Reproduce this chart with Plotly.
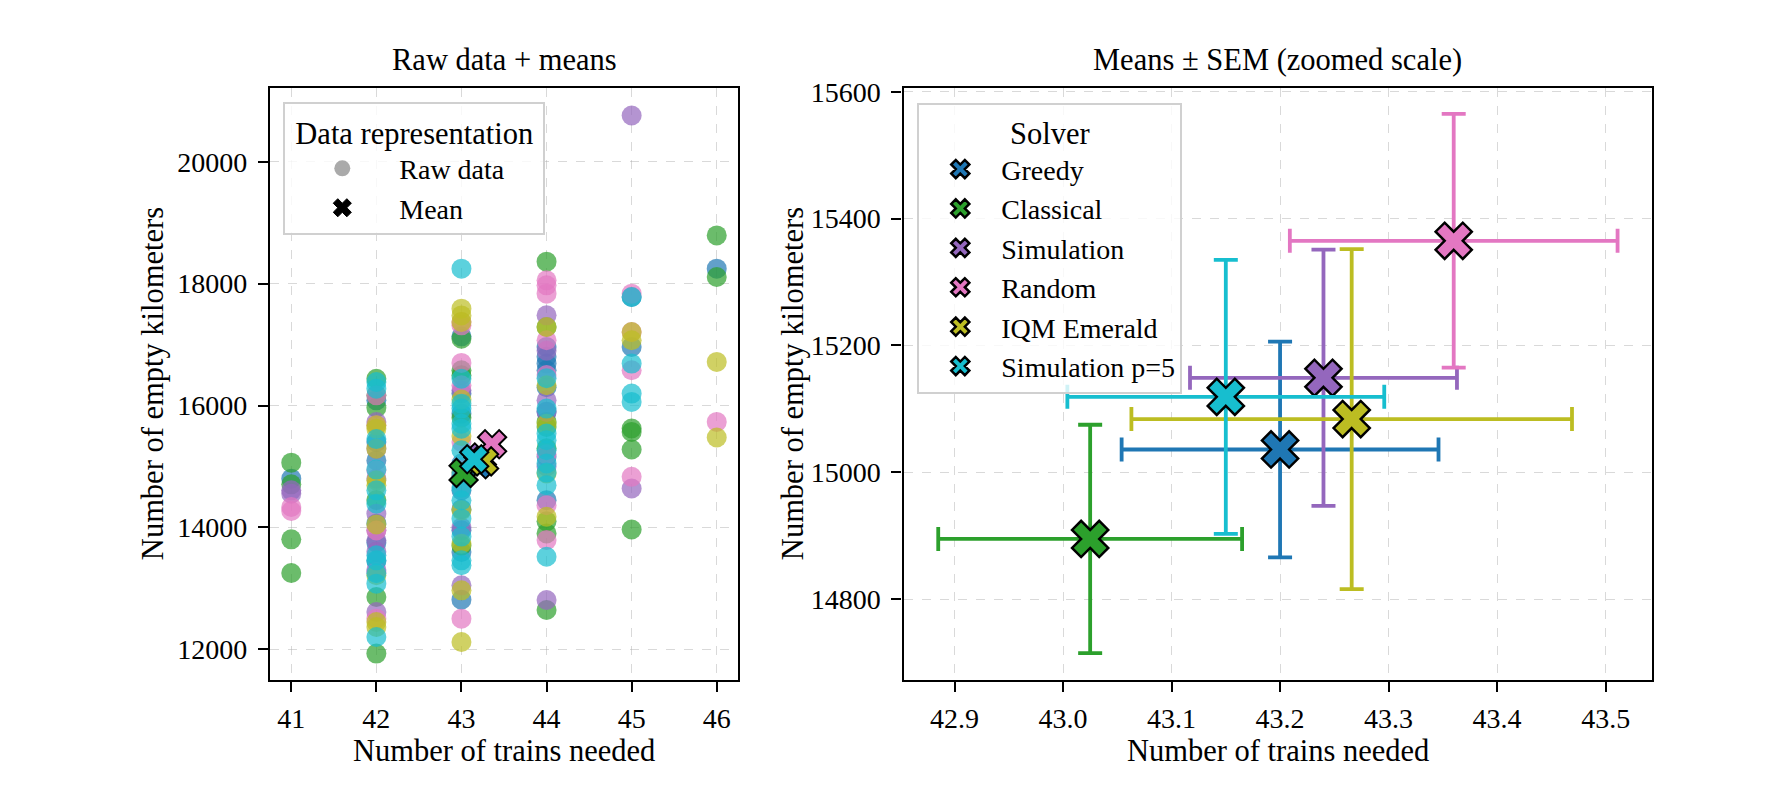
import plotly.graph_objects as go

# ---------------- data ----------------
solvers = ["Greedy", "Classical", "Simulation", "Random", "IQM Emerald", "Simulation p=5"]
colors = ["#1f77b4", "#2ca02c", "#9467bd", "#e377c2", "#bcbd22", "#17becf"]

# raw observations (number of trains, empty kilometres) per solver
greedy_trains = [41, 42, 42, 42, 42, 42, 42, 43, 43, 43, 43, 43, 43, 43, 43, 43,
                 44, 44, 44, 44, 44, 44, 44, 44, 45, 45, 46]
greedy_km = [14801, 16086, 15402, 15100, 14062, 13750, 13450, 17136, 16200, 15867, 15050, 14609, 14300,
             13953, 13597, 12815, 16962, 16800, 16689, 16579, 16300, 15900, 15159, 14448, 16962, 17781, 18246]

classical_trains = [41, 41, 41, 41, 42, 42, 42, 42, 42, 42, 43, 43, 43, 43, 43, 43,
                    44, 44, 44, 44, 44, 44, 44, 44, 45, 45, 45, 45, 46, 46]
classical_km = [15063, 14708, 13805, 13253, 16441, 16168, 15966, 14450, 12859, 11930,
                17098, 16578, 16496, 15800, 14900, 13700,
                18361, 17290, 15732, 15650, 15300, 14100, 13902, 12645, 15623, 15568, 15279, 13967, 18792, 18109]

simulation_trains = [41, 41, 42, 42, 42, 42, 42, 42, 42, 42, 42, 43, 43, 43,
                     44, 44, 44, 44, 44, 44, 45, 45]
simulation_km = [14609, 14555, 15730, 15293, 14800, 14226, 13953, 13789, 13600, 13300, 12613,
                 16250, 14000, 13050, 17481, 16900, 16088, 15896, 15000, 12809, 20759, 14640]

random_trains = [41, 41, 42, 42, 42, 42, 42, 42, 43, 43, 43, 43, 43, 43, 43,
                 44, 44, 44, 44, 44, 44, 44, 44, 45, 45, 45, 45, 46]
random_km = [14336, 14270, 16168, 15676, 14937, 13950, 13269, 12503,
             17371, 17316, 16700, 16332, 15402, 14850, 12503,
             18055, 17973, 17836, 17071, 16500, 15200, 14366, 13793, 17836, 17208, 16579, 14831, 15732]

iqm_trains = [42, 42, 42, 42, 42, 42, 42, 42, 42, 43, 43, 43, 43, 43, 43, 43, 43, 43,
              44, 44, 44, 44, 44, 45, 45, 46, 46]
iqm_km = [15676, 15621, 15293, 14773, 14691, 14050, 13215, 12449, 12367,
          17590, 17480, 17371, 16100, 15500, 14281, 13734, 12968, 12121,
          17290, 16333, 15700, 14885, 14175, 17208, 17071, 16716, 15476]

simp5_trains = [42, 42, 42, 42, 42, 42, 42, 42, 42, 42, 42,
                43, 43, 43, 43, 43, 43, 43, 43, 43, 43, 43, 43, 43, 43,
                44, 44, 44, 44, 44, 44, 44, 44, 44, 45, 45, 45, 45]
simp5_km = [16387, 16277, 15450, 14950, 14609, 14390, 13543, 13461, 13250, 13078, 12203,
            18246, 16441, 16031, 15950, 15700, 15621, 15266, 14850, 14650, 14445, 14144, 13850, 13461, 13379,
            16450, 15950, 15541, 15432, 15268, 15050, 14900, 14694, 13520, 17781, 16689, 16197, 16060]

raw_trains = [greedy_trains, classical_trains, simulation_trains, random_trains, iqm_trains, simp5_trains]
raw_km = [greedy_km, classical_km, simulation_km, random_km, iqm_km, simp5_km]

# means and standard errors
mean_trains = [43.200, 43.025, 43.240, 43.360, 43.266, 43.150]
mean_km = [15036, 14895, 15149, 15365, 15084, 15119]
sem_trains = [0.146, 0.140, 0.123, 0.151, 0.203, 0.146]
sem_km = [170, 180, 202, 200, 268, 216]

left_xticks = [41, 42, 43, 44, 45, 46]
left_yticks = [12000, 14000, 16000, 18000, 20000]
right_xticks = [42.9, 43.0, 43.1, 43.2, 43.3, 43.4, 43.5]
right_yticks = [14800, 15000, 15200, 15400, 15600]

# ---------------- figure ----------------
W, H = 1785, 806
FONT = "Liberation Serif"

def px(x):
    return x / W

def py(y):
    return 1 - y / H

fig = go.Figure()

# left panel: raw data
for name, col, xs, ys in zip(solvers, colors, raw_trains, raw_km):
    fig.add_trace(go.Scatter(
        x=xs, y=ys, mode="markers", xaxis="x", yaxis="y", showlegend=False,
        marker=dict(symbol="circle", size=20, color=col, opacity=0.7, line=dict(width=0)),
        name=name + " raw"))

# left panel: means
for name, col, mx, my in zip(solvers, colors, mean_trains, mean_km):
    fig.add_trace(go.Scatter(
        x=[mx], y=[my], mode="markers", xaxis="x", yaxis="y", showlegend=False,
        marker=dict(symbol="x", size=25, color=col, line=dict(color="black", width=2)),
        name=name + " mean"))

# left legend entries
fig.add_trace(go.Scatter(
    x=[None], y=[None], mode="markers", xaxis="x", yaxis="y", name="Raw data", legend="legend",
    marker=dict(symbol="circle", size=16, color="#aaaaaa")))
fig.add_trace(go.Scatter(
    x=[None], y=[None], mode="markers", xaxis="x", yaxis="y", name="Mean", legend="legend",
    marker=dict(symbol="x", size=16, color="black", line=dict(color="black", width=1))))

# right panel: means with SEM error bars
for name, col, mx, my, sx, sy in zip(solvers, colors, mean_trains, mean_km, sem_trains, sem_km):
    fig.add_trace(go.Scatter(
        x=[mx], y=[my], mode="markers", xaxis="x2", yaxis="y2", name=name, legend="legend2",
        marker=dict(symbol="x", size=32, color=col, line=dict(color="black", width=2.5)),
        error_x=dict(type="data", array=[sx], color=col, thickness=3.8, width=12),
        error_y=dict(type="data", array=[sy], color=col, thickness=3.8, width=12)))

L_x0, L_x1 = 270, 738
R_x0, R_x1 = 903.5, 1652.3
Y_top, Y_bot = 88.3, 680

axis_common = dict(
    showline=True, linecolor="black", linewidth=2.2, mirror=True,
    ticks="outside", ticklen=10, tickwidth=2.2, tickcolor="black",
    showgrid=True, gridcolor="rgba(170,170,170,0.45)", gridwidth=1.3, griddash="dash",
    zeroline=False, tickfont=dict(family=FONT, size=28, color="black"),
)

fig.update_layout(
    width=W, height=H,
    margin=dict(l=0, r=0, t=0, b=0, autoexpand=False),
    paper_bgcolor="white", plot_bgcolor="white",
    font=dict(family=FONT, color="black"),
    xaxis=dict(domain=[px(L_x0), px(L_x1)], range=[40.75, 46.25], tickvals=left_xticks,
               anchor="y", ticklabelstandoff=2, **axis_common),
    yaxis=dict(domain=[py(Y_bot), py(Y_top)], range=[11497, 21206], tickvals=left_yticks,
               tickformat="d", anchor="x", ticklabelstandoff=5, **axis_common),
    xaxis2=dict(domain=[px(R_x0), px(R_x1)], range=[42.853, 43.543], tickvals=right_xticks,
                tickformat=".1f", anchor="y2", ticklabelstandoff=2, **axis_common),
    yaxis2=dict(domain=[py(Y_bot), py(Y_top)], range=[14672.6, 15605.4], tickvals=right_yticks,
                tickformat="d", anchor="x2", ticklabelstandoff=5, **axis_common),
    legend=dict(
        x=px(283.3), y=py(102), xanchor="left", yanchor="top",
        bgcolor="rgba(255,255,255,0.8)", bordercolor="#d0d0d0", borderwidth=2,
        font=dict(family=FONT, size=28, color="black"),
        title=dict(text="&nbsp;Data representation&nbsp;", side="top center",
                   font=dict(family=FONT, size=30.5, color="black")),
        itemwidth=104, tracegroupgap=0, itemsizing="trace",
    ),
    legend2=dict(
        x=px(917.3), y=py(102.7), xanchor="left", yanchor="top",
        bgcolor="rgba(255,255,255,0.8)", bordercolor="#d0d0d0", borderwidth=2,
        font=dict(family=FONT, size=28, color="black"),
        title=dict(text="Solver", side="top center",
                   font=dict(family=FONT, size=30.5, color="black")),
        itemwidth=72, tracegroupgap=0, itemsizing="trace",
    ),
    showlegend=True,
)

ann_font = dict(family=FONT, size=30.5, color="black")
annotations = [
    dict(text="Raw data + means", x=px((L_x0 + L_x1) / 2), y=py(60.5)),
    dict(text="Means ± SEM (zoomed scale)", x=px((R_x0 + R_x1) / 2), y=py(60.5)),
    dict(text="Number of trains needed", x=px((L_x0 + L_x1) / 2), y=py(751)),
    dict(text="Number of trains needed", x=px((R_x0 + R_x1) / 2), y=py(751)),
    dict(text="Number of empty kilometers", x=px(153), y=py((Y_top + Y_bot) / 2), textangle=-90),
    dict(text="Number of empty kilometers", x=px(793), y=py((Y_top + Y_bot) / 2), textangle=-90),
]
for a in annotations:
    fig.add_annotation(xref="paper", yref="paper", showarrow=False, xanchor="center",
                       yanchor="middle", font=ann_font, **a)

fig.write_html(
    "out.html",
    config={"displayModeBar": False},
    post_script="document.body.style.margin='0';document.body.style.padding='0';"
                "document.documentElement.style.overflow='hidden';",
)
